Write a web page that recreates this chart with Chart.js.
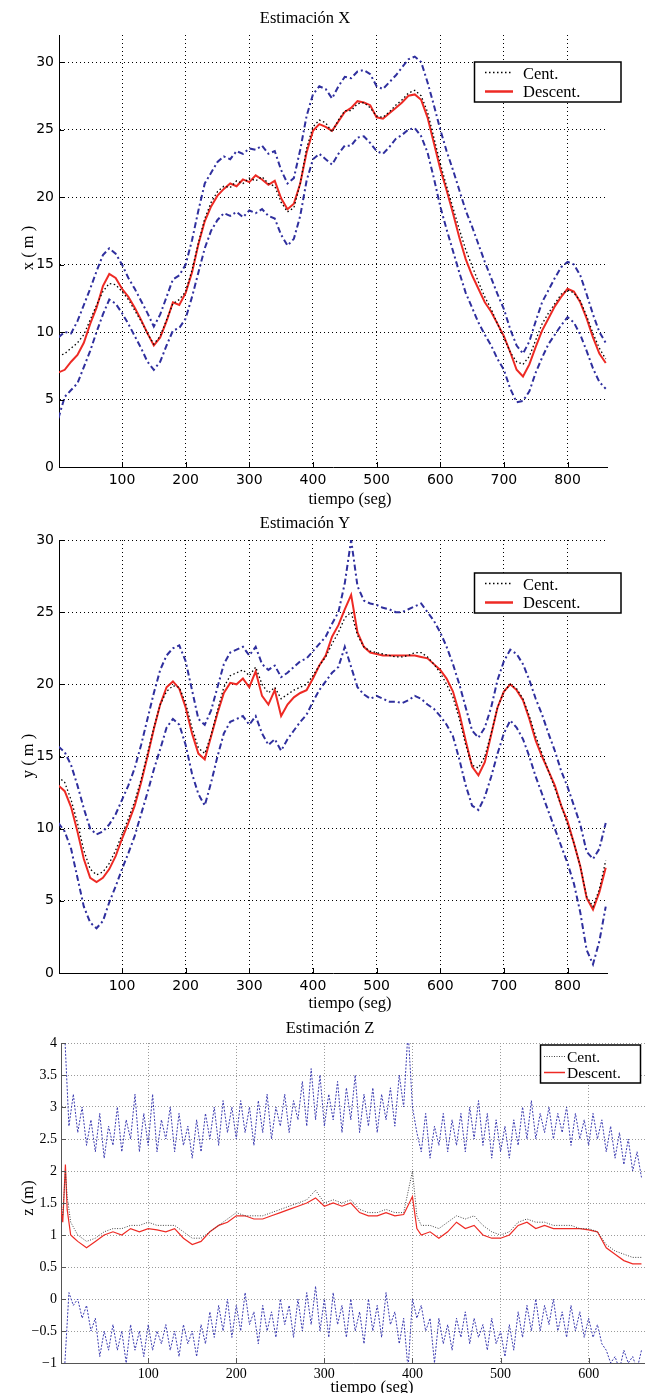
<!DOCTYPE html>
<html lang="es">
<head>
<meta charset="UTF-8">
<title>Estimación X, Y, Z</title>
<script src="https://cdn.jsdelivr.net/npm/chart.js"></script>
<style>
    body { margin: 0; background: #fff; }
    #page { position: relative; width: 645px; height: 1393px; overflow: hidden; background: #fff; }
    canvas { position: absolute; left: 0; }
</style>
</head>
<body>
<div id="page">
    <canvas id="chartX"></canvas>
    <canvas id="chartY"></canvas>
    <canvas id="chartZ"></canvas>
</div>
<script>
// ---- time axes ----
const tXY = [0,10,20,30,40,50,60,70,80,90,100,110,120,130,140,150,160,170,180,190,
    200,210,220,230,240,250,260,270,280,290,300,310,320,330,340,350,360,370,380,390,
    400,410,420,430,440,450,460,470,480,490,500,510,520,530,540,550,560,570,580,590,
    600,610,620,630,640,650,660,670,680,690,700,710,720,730,740,750,760,770,780,790,
    800,810,820,830,840,850,860];

// ---- Estimación X ----
const xDescent = [7.0,7.2,7.8,8.3,9.2,10.6,11.8,13.4,14.3,14.0,
    13.2,12.6,11.8,10.9,9.9,9.0,9.6,10.8,12.2,12.0,
    12.9,14.4,16.5,18.2,19.3,20.1,20.6,21.0,20.8,21.3,
    21.1,21.6,21.3,20.9,21.2,19.9,19.1,19.5,21.0,23.3,
    24.9,25.4,25.2,24.9,25.6,26.3,26.6,27.1,27.0,26.8,
    25.9,25.8,26.2,26.6,27.0,27.5,27.6,27.2,25.9,24.0,
    22.1,20.5,18.8,17.0,15.4,14.2,13.2,12.2,11.5,10.6,
    9.7,8.5,7.2,6.7,7.6,8.9,10.1,11.0,11.9,12.6,
    13.2,13.0,12.2,11.0,9.6,8.4,7.7];
const xCent = [8.2,8.4,8.8,9.2,9.8,10.9,12.0,13.0,13.6,13.5,
    13.0,12.4,11.6,10.8,9.9,9.1,9.7,10.9,12.1,12.4,
    13.0,14.6,16.6,18.4,19.6,20.4,20.8,20.7,21.2,21.0,
    21.4,21.2,21.5,21.0,20.8,19.6,18.9,19.2,21.0,23.6,
    25.2,25.7,25.5,24.8,25.7,26.4,26.4,26.9,27.0,26.6,
    26.0,25.9,26.3,26.8,27.2,27.7,27.9,27.5,26.3,24.4,
    22.5,20.8,19.2,17.6,16.1,14.9,13.7,12.6,11.7,10.6,
    9.6,8.5,7.8,7.6,8.2,9.4,10.6,11.4,12.1,12.8,
    13.1,12.9,12.3,11.2,9.9,8.8,8.0];
const xUpper = [9.6,10.0,9.9,10.8,12.0,13.2,14.5,15.7,16.2,15.8,
    15.0,14.0,13.2,12.3,11.4,10.4,11.3,12.6,13.9,14.2,
    15.0,16.8,19.0,21.0,21.8,22.6,23.0,22.8,23.4,23.2,
    23.6,23.5,23.8,23.2,23.4,22.0,21.0,21.4,23.5,26.0,
    27.6,28.2,28.0,27.3,28.2,28.9,28.8,29.3,29.4,29.1,
    28.2,28.0,28.5,29.0,29.6,30.2,30.4,30.0,28.5,26.8,
    25.0,23.4,22.0,20.5,19.0,17.8,16.5,15.2,14.0,12.8,
    11.7,10.2,9.0,8.4,9.3,10.8,12.2,13.1,14.0,14.8,
    15.2,15.0,14.2,12.8,11.3,10.0,9.2];
const xLower = [3.6,5.2,5.7,6.2,7.4,8.6,10.0,11.3,12.4,12.1,
    11.4,10.6,9.7,8.8,7.8,7.2,7.8,9.0,10.1,10.3,
    11.0,12.6,14.4,16.2,17.5,18.3,18.8,18.6,18.9,18.5,
    19.0,18.8,19.1,18.6,18.4,17.2,16.4,16.9,18.6,21.2,
    22.8,23.2,22.8,22.4,23.2,23.8,23.8,24.4,24.5,24.0,
    23.4,23.2,23.7,24.3,24.6,25.0,25.1,24.5,23.3,21.4,
    19.3,17.6,16.0,14.4,12.9,11.8,10.7,9.8,9.0,8.0,
    7.2,5.8,4.8,4.9,5.6,7.0,8.1,9.1,9.8,10.5,
    11.1,10.7,9.8,8.6,7.3,6.3,5.8];

// ---- Estimación Y ----
const yDescent = [13.0,12.6,11.5,9.8,7.9,6.6,6.3,6.6,7.2,8.1,
    9.3,10.4,11.6,13.2,15.0,16.9,18.6,19.8,20.2,19.7,
    18.4,16.6,15.2,14.8,16.4,18.0,19.4,20.1,20.0,20.4,
    19.8,20.9,19.2,18.6,19.6,17.8,18.6,19.1,19.4,19.6,
    20.4,21.3,22.0,23.3,24.1,25.2,26.2,23.6,22.6,22.2,
    22.1,22.0,22.0,22.0,22.0,22.0,22.0,21.9,21.8,21.4,
    21.0,20.4,19.5,18.0,16.1,14.3,13.7,14.6,16.5,18.4,
    19.5,20.0,19.6,18.9,17.6,16.1,15.0,14.0,13.0,11.6,
    10.5,9.0,7.4,5.2,4.4,5.6,7.3];
const yCent = [13.6,13.2,12.0,10.4,8.5,7.2,6.8,7.0,7.6,8.5,
    9.6,10.7,11.9,13.4,15.2,17.0,18.6,19.5,19.9,19.8,
    18.7,17.0,15.6,15.2,16.5,18.2,19.8,20.6,20.8,21.0,
    20.6,21.2,20.0,19.4,19.8,19.0,19.3,19.6,19.8,20.0,
    20.6,21.3,21.9,22.8,23.6,24.6,25.0,23.4,22.6,22.3,
    22.2,22.1,22.0,21.9,21.9,22.0,22.2,22.2,21.9,21.4,
    20.8,20.0,19.1,17.6,15.8,14.4,14.2,15.0,16.6,18.4,
    19.5,20.0,19.7,19.0,17.8,16.4,15.2,14.0,12.8,11.6,
    10.3,9.0,7.4,5.3,4.6,5.8,7.8];
const yUpper = [15.7,15.3,14.4,13.0,11.4,10.0,9.6,9.8,10.3,11.0,
    12.0,13.0,14.2,15.8,17.6,19.4,21.0,22.0,22.5,22.7,
    21.6,19.6,17.6,17.2,18.2,19.8,21.4,22.2,22.4,22.6,
    22.0,22.6,21.4,21.0,21.3,20.5,20.8,21.2,21.6,21.8,
    22.3,22.8,23.3,24.2,25.0,27.0,30.0,26.8,25.8,25.6,
    25.5,25.3,25.2,25.0,25.0,25.2,25.4,25.6,25.0,24.4,
    23.6,22.6,21.4,20.0,18.4,16.8,16.3,17.0,18.4,20.3,
    21.6,22.4,22.1,21.4,20.3,19.0,17.9,16.6,15.4,14.0,
    12.9,11.6,10.3,8.4,7.9,8.6,10.4];
const yLower = [10.4,9.8,8.6,6.6,4.6,3.5,3.1,3.6,4.9,6.0,
    7.2,8.3,9.5,11.0,12.5,14.1,15.5,17.0,17.6,17.2,
    15.8,13.8,12.4,11.6,13.2,15.0,16.6,17.4,17.6,17.8,
    17.2,17.8,16.6,15.8,16.2,15.4,16.2,16.8,17.4,17.9,
    18.8,19.6,20.2,20.8,21.2,22.6,21.2,19.8,19.3,19.0,
    19.2,19.0,18.8,18.8,18.7,18.9,19.2,19.0,18.6,18.3,
    17.8,17.2,16.4,14.8,13.0,11.6,11.3,12.2,13.6,15.2,
    16.6,17.5,17.0,16.2,15.0,13.6,12.4,11.2,10.0,8.8,
    7.6,6.2,4.2,1.6,0.6,2.2,4.6];

// ---- Estimación Z ----
const tZb = [0,5,10,15,20,25,30,35,40,45,50,55,60,65,70,75,80,85,90,95,
    100,105,110,115,120,125,130,135,140,145,150,155,160,165,170,175,180,185,190,195,
    200,205,210,215,220,225,230,235,240,245,250,255,260,265,270,275,280,285,290,295,
    300,305,310,315,320,325,330,335,340,345,350,355,360,365,370,375,380,385,390,395,
    400,405,410,415,420,425,430,435,440,445,450,455,460,465,470,475,480,485,490,495,
    500,505,510,515,520,525,530,535,540,545,550,555,560,565,570,575,580,585,590,595,
    600,605,610,615,620,625,630,635,640,645,650,655,660];
const zUpper = [4.3,4.2,2.7,3.2,2.6,3.0,2.4,2.8,2.3,2.9,2.2,2.7,2.4,3.0,2.3,2.8,2.5,3.2,2.3,2.9,
    2.4,3.2,2.3,2.8,2.5,3.0,2.3,2.9,2.4,2.7,2.2,2.8,2.3,2.9,2.5,3.0,2.4,3.1,2.6,3.0,
    2.5,3.1,2.6,3.0,2.4,3.1,2.6,3.2,2.5,3.0,2.7,3.2,2.6,3.1,2.8,3.4,2.7,3.6,2.8,3.5,
    2.7,3.2,2.8,3.4,2.6,3.3,2.8,3.5,2.6,3.2,2.7,3.3,2.6,3.2,2.8,3.3,2.7,3.5,3.0,4.2,
    3.0,2.6,2.3,2.9,2.2,2.7,2.4,2.9,2.3,2.8,2.4,2.9,2.3,3.0,2.5,3.1,2.4,2.9,2.2,2.8,
    2.3,2.7,2.2,2.8,2.4,3.0,2.5,3.1,2.5,2.9,2.6,3.0,2.5,2.9,2.6,3.0,2.4,2.9,2.5,2.8,
    2.4,2.9,2.5,2.8,2.3,2.7,2.2,2.6,2.1,2.5,2.0,2.3,1.9];
const zLower = [-1.2,-1.1,0.1,-0.1,0.0,-0.3,-0.1,-0.5,-0.3,-0.9,-0.5,-0.8,-0.4,-0.8,-0.5,-1.0,-0.4,-0.8,-0.5,-0.9,
    -0.4,-0.8,-0.5,-0.7,-0.4,-0.8,-0.5,-0.9,-0.4,-0.7,-0.5,-0.9,-0.4,-0.7,-0.2,-0.6,-0.1,-0.5,0.0,-0.6,
    -0.1,-0.5,0.1,-0.4,-0.2,-0.7,-0.1,-0.5,-0.2,-0.6,0.0,-0.4,-0.1,-0.6,0.0,-0.5,0.1,-0.4,0.2,-0.5,
    0.0,-0.6,0.1,-0.4,-0.1,-0.6,0.0,-0.5,-0.2,-0.7,0.0,-0.5,-0.1,-0.6,0.1,-0.4,-0.2,-0.7,-0.3,-1.1,
    0.0,-0.3,-0.1,-0.5,-0.3,-1.0,-0.3,-0.7,-0.4,-0.8,-0.3,-0.6,-0.2,-0.7,-0.3,-0.6,-0.4,-0.8,-0.3,-0.7,
    -0.5,-0.9,-0.4,-0.8,-0.2,-0.6,-0.1,-0.5,0.0,-0.5,-0.1,-0.4,0.0,-0.5,-0.2,-0.6,-0.1,-0.5,-0.2,-0.6,
    -0.3,-0.6,-0.4,-0.7,-0.8,-1.0,-0.9,-1.1,-0.8,-1.0,-0.9,-1.1,-0.8];
const tZc = [0,3,6,8,12,16,20,30,40,50,60,70,80,90,100,110,120,130,140,150,160,170,180,190,
    200,210,220,230,240,250,260,270,280,290,300,310,320,330,340,350,360,370,380,390,400,405,
    410,420,430,440,450,460,470,480,490,500,510,520,530,540,550,560,570,580,590,600,
    610,620,630,640,650,660];
const zDescent = [1.5,1.2,2.1,1.4,1.0,0.95,0.9,
    0.8,0.9,1.0,1.05,1.0,1.1,1.05,1.1,1.08,1.05,
    1.1,0.95,0.85,0.9,1.05,1.15,1.2,1.3,1.3,1.25,
    1.25,1.3,1.35,1.4,1.45,1.5,1.58,1.45,1.5,1.45,
    1.5,1.35,1.3,1.3,1.35,1.3,1.32,1.6,
    1.1,
    1.0,1.05,0.95,1.05,1.2,1.1,1.15,1.0,0.95,0.95,
    1.0,1.15,1.2,1.1,1.15,1.1,1.1,1.1,1.1,1.08,
    1.05,0.8,0.7,0.6,0.55,0.55];
const zCent = [1.6,1.3,2.0,1.6,1.2,1.1,1.0,
    0.9,0.95,1.05,1.1,1.1,1.15,1.15,1.2,1.15,1.15,
    1.15,1.05,0.95,0.95,1.05,1.15,1.25,1.35,1.3,1.3,
    1.3,1.35,1.4,1.45,1.5,1.55,1.7,1.5,1.55,1.5,
    1.55,1.4,1.35,1.35,1.4,1.35,1.35,2.0,
    1.3,
    1.15,1.15,1.1,1.2,1.3,1.25,1.3,1.15,1.05,1.0,
    1.05,1.2,1.25,1.2,1.2,1.15,1.15,1.15,1.1,1.1,
    1.05,0.85,0.75,0.7,0.65,0.65];

// ---- ticks ----
const xTicksXY = [100,200,300,400,500,600,700,800];
const yTicksXY = [0,5,10,15,20,25,30];
const xTicksZ = [100,200,300,400,500,600];
const yTicksZ = [-1,-0.5,0,0.5,1,1.5,2,2.5,3,3.5,4];
const yLabelsZ = ['\u22121','\u22120.5','0','0.5','1','1.5','2','2.5','3','3.5','4'];

const BLUE = '#2f2f9e';
const RED = '#ee2a24';
const SERIF = '"Liberation Serif", "Times New Roman", serif';
const SANS = '"DejaVu Sans", sans-serif';

function pts(t, v) {
    return t.map((x, i) => ({ x: x, y: v[i] }));
}

// texts drawn at page coordinates
function textPlugin(top, items) {
    return {
        id: 'plotText',
        afterDraw(chart) {
            const ctx = chart.ctx;
            items.forEach(it => {
                ctx.save();
                ctx.font = it.font;
                ctx.fillStyle = '#000';
                ctx.textAlign = 'center';
                ctx.textBaseline = it.rotate ? 'middle' : 'alphabetic';
                ctx.translate(it.x, it.y - top);
                if (it.rotate) ctx.rotate(-Math.PI / 2);
                ctx.fillText(it.text, 0, 0);
                ctx.restore();
            });
        }
    };
}

// boxed legend like matlab
function legendPlugin(top, box) {
    return {
        id: 'boxLegend',
        afterDraw(chart) {
            const ctx = chart.ctx;
            const y0 = box.t - top;
            ctx.save();
            ctx.fillStyle = '#fff';
            ctx.fillRect(box.l, y0, box.r - box.l, box.b - box.t);
            ctx.strokeStyle = '#000';
            ctx.lineWidth = box.border;
            ctx.strokeRect(box.l, y0, box.r - box.l, box.b - box.t);
            let row = 0;
            chart.data.datasets.forEach(ds => {
                if (!ds.inLegend) return;
                const ly = box.rows[row] - top;
                ctx.beginPath();
                ctx.strokeStyle = ds.borderColor;
                ctx.lineWidth = ds.legendWidth || ds.borderWidth;
                ctx.setLineDash(ds.borderDash || []);
                ctx.moveTo(box.s0, ly);
                ctx.lineTo(box.s1, ly);
                ctx.stroke();
                ctx.setLineDash([]);
                ctx.fillStyle = '#000';
                ctx.font = box.font;
                ctx.textAlign = 'left';
                ctx.textBaseline = 'alphabetic';
                ctx.fillText(ds.label, box.tx, box.base[row] - top);
                row++;
            });
            ctx.restore();
        }
    };
}

// small inward tick marks
function innerTicksPlugin(color) {
    return {
        id: 'innerTicks',
        afterDraw(chart) {
            const ctx = chart.ctx;
            const a = chart.chartArea;
            const sx = chart.scales.x, sy = chart.scales.y;
            ctx.save();
            ctx.strokeStyle = color;
            ctx.lineWidth = 1;
            ctx.beginPath();
            sx.ticks.forEach(t => {
                const px = Math.round(sx.getPixelForValue(t.value)) + 0.5;
                ctx.moveTo(px, a.bottom);
                ctx.lineTo(px, a.bottom - 5);
            });
            sy.ticks.forEach(t => {
                const py = Math.round(sy.getPixelForValue(t.value)) + 0.5;
                ctx.moveTo(a.left, py);
                ctx.lineTo(a.left + 5, py);
            });
            ctx.stroke();
            ctx.restore();
        }
    };
}

function makePlot(id, p) {
    const canvas = document.getElementById(id);
    canvas.width = 645;
    canvas.height = p.height;
    canvas.style.top = p.top + 'px';
    const areaTop = p.area[1] - p.top;
    const areaBottom = p.area[3] - p.top;
    return new Chart(canvas, {
        type: 'line',
        data: { datasets: p.datasets },
        options: {
            responsive: false,
            animation: false,
            events: [],
            layout: { padding: { left: 0, top: areaTop, right: 645 - p.area[2], bottom: 0 } },
            elements: { point: { radius: 0 }, line: { tension: 0, fill: false } },
            plugins: { legend: { display: false }, tooltip: { enabled: false } },
            scales: {
                x: {
                    type: 'linear',
                    min: p.xMin,
                    max: p.xMax,
                    afterFit: s => { s.height = p.height - areaBottom; },
                    afterBuildTicks: s => { s.ticks = p.xTicks.map(v => ({ value: v })); },
                    grid: { color: p.gridColor, lineWidth: 1, drawTicks: false },
                    border: { color: p.axisColor, width: 1, dash: p.gridDash },
                    ticks: {
                        autoSkip: false, maxRotation: 0, padding: p.xPad, color: '#000',
                        font: p.tickFont, callback: v => String(v)
                    }
                },
                y: {
                    type: 'linear',
                    min: p.yMin,
                    max: p.yMax,
                    afterFit: s => { s.width = p.area[0]; },
                    afterBuildTicks: s => { s.ticks = p.yTicks.map(v => ({ value: v })); },
                    grid: { color: p.gridColor, lineWidth: 1, drawTicks: false },
                    border: { color: p.axisColor, width: 1, dash: p.gridDash },
                    ticks: {
                        padding: p.yPad, color: '#000', font: p.tickFont,
                        callback: v => p.yLabels ? p.yLabels[p.yTicks.indexOf(v)] : String(v)
                    }
                }
            }
        },
        plugins: [innerTicksPlugin(p.axisColor), textPlugin(p.top, p.texts), legendPlugin(p.top, p.legend)]
    });
}

function xyDatasets(cent, desc, up, low) {
    return [
        { label: 'Cent.', inLegend: true, data: pts(tXY, cent), borderColor: '#000', borderWidth: 1.3, borderDash: [1.5, 2.5] },
        { label: 'Descent.', inLegend: true, legendWidth: 2.5, data: pts(tXY, desc), borderColor: RED, borderWidth: 2 },
        { label: 'upper', data: pts(tXY, up), borderColor: BLUE, borderWidth: 2, borderDash: [6, 3, 2, 3] },
        { label: 'lower', data: pts(tXY, low), borderColor: BLUE, borderWidth: 2, borderDash: [6, 3, 2, 3] }
    ];
}

const tickSans = { family: SANS, size: 14 };
const tickSerif = { family: SERIF, size: 14 };
const labelFont = '16.5px ' + SERIF;

makePlot('chartX', {
    top: 0, height: 510, area: [59, 35, 607, 467],
    xMin: 1, xMax: 862, yMin: 0, yMax: 32,
    xTicks: xTicksXY, yTicks: yTicksXY,
    gridColor: '#000', axisColor: '#000', gridDash: [1, 3],
    tickFont: tickSans, xPad: 5, yPad: 5,
    datasets: xyDatasets(xCent, xDescent, xUpper, xLower),
    texts: [
        { text: 'Estimación X', x: 305, y: 23, font: labelFont },
        { text: 'tiempo (seg)', x: 350, y: 504, font: labelFont },
        { text: 'x ( m )', x: 29, y: 248, font: labelFont, rotate: true }
    ],
    legend: { l: 474.5, t: 62, r: 621, b: 102, border: 1.5, s0: 485, s1: 513, tx: 523,
        rows: [72.5, 91.5], base: [79, 96.5], font: labelFont }
});

makePlot('chartY', {
    top: 505, height: 510, area: [59, 540, 607, 973],
    xMin: 1, xMax: 862, yMin: 0, yMax: 30,
    xTicks: xTicksXY, yTicks: yTicksXY,
    gridColor: '#000', axisColor: '#000', gridDash: [1, 3],
    tickFont: tickSans, xPad: 5, yPad: 5,
    datasets: xyDatasets(yCent, yDescent, yUpper, yLower),
    texts: [
        { text: 'Estimación Y', x: 305, y: 528, font: labelFont },
        { text: 'tiempo (seg)', x: 350, y: 1008, font: labelFont },
        { text: 'y ( m )', x: 29, y: 756, font: labelFont, rotate: true }
    ],
    legend: { l: 474.5, t: 573, r: 621, b: 613, border: 1.5, s0: 485, s1: 513, tx: 523,
        rows: [583.5, 602.5], base: [590, 607.5], font: labelFont }
});

makePlot('chartZ', {
    top: 1005, height: 388, area: [61, 1043, 645, 1363],
    xMin: 1, xMax: 664, yMin: -1, yMax: 4,
    xTicks: xTicksZ, yTicks: yTicksZ, yLabels: yLabelsZ,
    gridColor: '#9a9a9a', axisColor: '#555', gridDash: [1, 2],
    tickFont: tickSerif, xPad: 3, yPad: 4,
    datasets: [
        { label: 'Cent.', inLegend: true, data: pts(tZc, zCent), borderColor: '#444', borderWidth: 1, borderDash: [1, 1.5] },
        { label: 'Descent.', inLegend: true, legendWidth: 1.5, data: pts(tZc, zDescent), borderColor: RED, borderWidth: 1.2 },
        { label: 'upper', data: pts(tZb, zUpper), borderColor: '#3a3ab0', borderWidth: 1, borderDash: [2, 1.5] },
        { label: 'lower', data: pts(tZb, zLower), borderColor: '#3a3ab0', borderWidth: 1, borderDash: [2, 1.5] }
    ],
    texts: [
        { text: 'Estimación Z', x: 330, y: 1033, font: labelFont },
        { text: 'tiempo (seg)', x: 372, y: 1392, font: labelFont },
        { text: 'z (m)', x: 29, y: 1198, font: labelFont, rotate: true }
    ],
    legend: { l: 540.5, t: 1045, r: 640.5, b: 1083, border: 1.5, s0: 544, s1: 565, tx: 567,
        rows: [1056.5, 1072.5], base: [1062, 1078], font: '15.5px ' + SERIF }
});
</script>
</body>
</html>
